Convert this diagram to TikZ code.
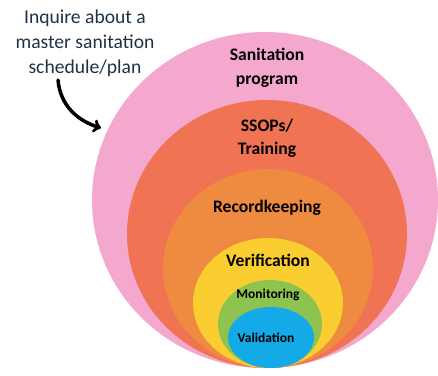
\documentclass[tikz,border=0pt]{standalone}
\usepackage{fontspec}
\setmainfont{Carlito}
\definecolor{pinkring}{RGB}{245,168,206}
\definecolor{redring}{RGB}{240,115,83}
\definecolor{orangering}{RGB}{238,139,64}
\definecolor{yellowring}{RGB}{250,206,48}
\definecolor{greenring}{RGB}{143,195,80}
\definecolor{bluering}{RGB}{20,170,232}
\definecolor{notetext}{RGB}{30,50,70}
\begin{document}
\begin{tikzpicture}
[x=1pt, y=1pt, every node/.style={inner sep=0pt},
 biglbl/.style={font=\bfseries\fontsize{17.6}{20}\selectfont, text=black, align=center},
 smalllbl/.style={font=\bfseries\fontsize{13.5}{15}\selectfont, text=black}]
\useasboundingbox (0,0) rectangle (438,375);
% rings, outside in
\fill [pinkring] (265,175) ellipse [x radius=173pt, y radius=168pt];
\fill [redring] (267,141) ellipse [x radius=140pt, y radius=134pt];
\fill [orangering] (268,106.5) ellipse [x radius=105pt, y radius=99.5pt];
\fill [yellowring] (268,72) ellipse [x radius=75pt, y radius=65pt];
\fill [greenring] (270,51) ellipse [x radius=52pt, y radius=44pt];
\fill [bluering] (271,37.5) ellipse [x radius=43pt, y radius=30.5pt];
% labels
\node (program) [biglbl] at (267, 307) {Sanitation\\[4pt]program};
\node (ssops) [biglbl] at (267, 236.5) {SSOPs/\\[3pt]Training};
\node (records) [biglbl] at (267, 167) {Recordkeeping};
\node (verify) [biglbl] at (268, 115) {Verification};
\node (monitor) [smalllbl] at (268, 80) {Monitoring};
\node (validate) [smalllbl] at (266, 37) {Validation};
% note and arrow
\node (note) [font=\fontsize{19.6}{25}\selectfont, text=notetext, align=center] at (85, 332) {Inquire about a\\master sanitation\\schedule/plan};
\coordinate (tail) at (58, 295);
\coordinate (head) at (101, 247);
\draw [line width=3.5pt, ->, color=black, line cap=round] (tail) to [out=-85, in=163] (head);
\end{tikzpicture}
\end{document}
